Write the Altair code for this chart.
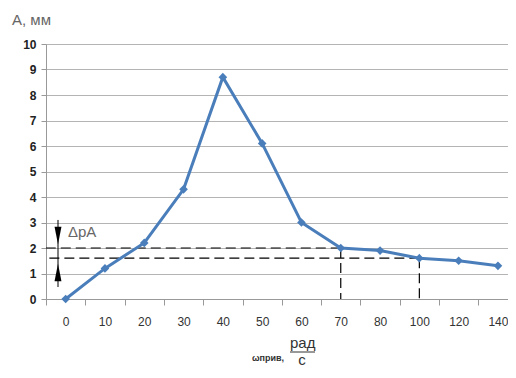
import altair as alt
import pandas as pd

categories = ["0", "10", "20", "30", "40", "50", "60", "70", "80", "100", "120", "140"]
amplitude = [0, 1.2, 2.2, 4.3, 8.7, 6.1, 3.0, 2.0, 1.9, 1.6, 1.5, 1.3]

guide_cats = ["70", "100"]
guide_vals = [2.0, 1.6]

delta_top = 3.1
delta_bottom = 0.47
delta_heads = [2.49, 1.04]

df = pd.DataFrame({"w": categories, "A": amplitude})
guides = pd.DataFrame({"w": guide_cats, "A": guide_vals, "zero": [0, 0]})

W, H = 462, 255
STEP = 39.3
font = "Liberation Sans"
blue = "#4a7ebb"

xscale = alt.Scale(type="band", domain=categories, range=[0, STEP * len(categories)],
                   paddingInner=0, paddingOuter=0)
yscale = alt.Scale(domain=[0, 10], nice=False)

xaxis = alt.Axis(title=None, tickBand="extent", labelAngle=0, grid=False,
                 domainColor="#999", tickColor="#999", tickSize=6,
                 labelFont=font, labelFontSize=12, labelColor="#333",
                 labelPadding=11, labelOverlap=False)
yaxis = alt.Axis(title=None, values=list(range(11)), grid=True, gridColor="#b4b4b4",
                 domainColor="#999", tickColor="#999", tickSize=5, labelFont=font,
                 labelFontSize=12, labelColor="#222", labelPadding=5,
                 labelOverlap=False, labelFontWeight="bold")


def X(field):
    return alt.X(field, scale=xscale, sort=categories, axis=xaxis)


def Y(field):
    return alt.Y(field, scale=yscale, axis=yaxis)


base = alt.Chart(df)
line = base.mark_line(color=blue, strokeWidth=3).encode(x=X("w:O"), y=Y("A:Q"))
pts = base.mark_point(shape="diamond", filled=True, size=75, color=blue, opacity=1).encode(
    x=X("w:O"), y=Y("A:Q"))

gch = alt.Chart(guides)
hdash = gch.mark_rule(color="black", strokeWidth=1.2, strokeDash=[10, 5]).encode(
    x=X("w:O"), x2=alt.value(0), y=Y("A:Q"))
vdash = gch.mark_rule(color="black", strokeWidth=1.2, strokeDash=[10, 5]).encode(
    x=X("w:O"), y=Y("A:Q"), y2="zero:Q")

dpos = pd.DataFrame({"top": [delta_top], "bot": [delta_bottom]})
arrow_line = alt.Chart(dpos).mark_rule(color="black", strokeWidth=1).encode(
    x=alt.value(12), y=Y("top:Q"), y2="bot:Q")
down_path = "M-0.4,-1L0.4,-1L0,1Z"
up_path = "M-0.4,1L0.4,1L0,-1Z"
heads = pd.DataFrame({"A": delta_heads, "shape": [down_path, up_path]})
arrow_heads = alt.Chart(heads).mark_point(filled=True, size=300, color="black", opacity=1).encode(
    x=alt.value(12), y=Y("A:Q"), shape=alt.Shape("shape:N", scale=None))

delta_text = alt.Chart(pd.DataFrame({"t": ["ΔpA"]})).mark_text(
    font=font, fontSize=15, color="#666", align="left", baseline="middle"
).encode(x=alt.value(22), y=alt.value(188), text="t:N")

ytitle = alt.Chart(pd.DataFrame({"t": ["A, мм"]})).mark_text(
    font=font, fontSize=15, color="#666", align="left", baseline="middle"
).encode(x=alt.value(-34), y=alt.value(-24), text="t:N")

xt1 = alt.Chart(pd.DataFrame({"t": ["ωприв,"]})).mark_text(
    font=font, fontSize=9, fontWeight="bold", color="#333", align="left", baseline="middle"
).encode(x=alt.value(206), y=alt.value(314), text="t:N")
xt2 = alt.Chart(pd.DataFrame({"t": ["рад"]})).mark_text(
    font=font, fontSize=15, color="#333", align="left", baseline="alphabetic"
).encode(x=alt.value(244), y=alt.value(304), text="t:N")
xbar = alt.Chart(pd.DataFrame({"t": [1]})).mark_rule(color="#333", strokeWidth=1).encode(
    x=alt.value(244), x2=alt.value(269), y=alt.value(308))
xt3 = alt.Chart(pd.DataFrame({"t": ["с"]})).mark_text(
    font=font, fontSize=15, color="#333", align="center", baseline="top"
).encode(x=alt.value(256), y=alt.value(309), text="t:N")

chart = alt.layer(
    hdash, vdash, line, pts, arrow_line, arrow_heads, delta_text, ytitle, xt1, xt2, xbar, xt3
).properties(
    width=W, height=H,
    autosize=alt.AutoSizeParams(type="none"),
    padding={"left": 38, "top": 36, "right": 0, "bottom": 71},
).configure_view(stroke=None).configure(background="white")

chart.save("out.html", embed_options={"renderer": "svg", "actions": False})
